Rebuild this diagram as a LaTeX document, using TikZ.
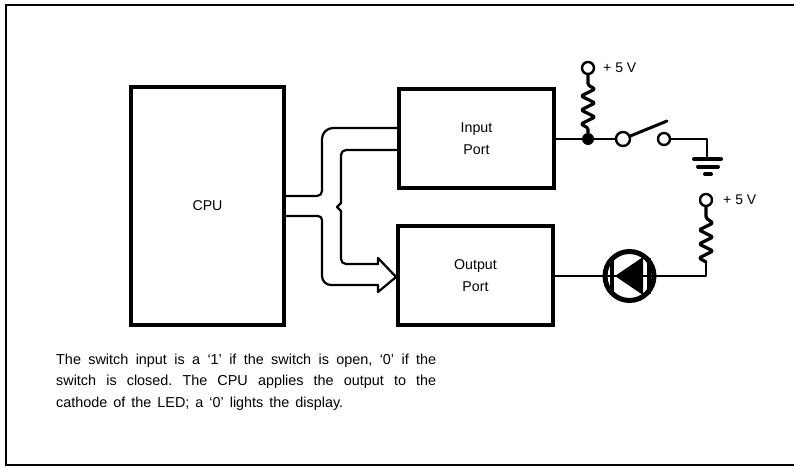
\documentclass[tikz,border=0pt]{standalone}
\usepackage{fontspec}
\setmainfont{Liberation Sans}
\usetikzlibrary{calc}
\tikzset{
  x=1pt,y=-1pt,
  blockbox/.style={draw,line width=3.8pt,minimum width=#1,align=center,inner sep=0pt,font=\fontsize{14.2}{22}\selectfont},
  wire/.style={line width=2.2pt,line join=round,line cap=round},
  term/.style={circle,draw,fill=white,line width=2.4pt,minimum size=#1,inner sep=0pt},
  dotnode/.style={circle,fill=black,minimum size=12pt,inner sep=0pt},
  lbl/.style={font=\fontsize{14}{16}\selectfont,anchor=west,inner sep=0pt},
  res/.style={line width=3.2pt,line join=round,line cap=round},
  gnd/.style={line width=4pt,line cap=round}
}
\begin{document}
\begin{tikzpicture}
\useasboundingbox (0,0) rectangle (794,466);
\draw[line width=2.2pt] (794,5) -- (6,5) -- (6,465) -- (794,465);
% blocks
\node[blockbox=153pt,minimum height=238pt] (cpu) at (207.5,206) {CPU};
\node[blockbox=155pt,minimum height=99pt] (in) at (476.5,138.5) {Input\\Port};
\node[blockbox=155pt,minimum height=99pt] (out) at (475.5,275.5) {Output\\Port};
% bus
\draw[wire,rounded corners=5pt] (cpu.east |- 0,196) -- (322,196) [rounded corners=11pt] -- (322,128) -- (in.west |- 0,128);
\draw[wire,rounded corners=5pt] (in.west |- 0,150) -- (341,150) -- (341,203);
\draw[wire] (341,203) -- (337,207) -- (341,211);
\draw[wire,rounded corners=5pt] (341,211) -- (341,264) -- (378,264);
\draw[wire] (378,264) -- (378,258) -- (out.west |- 0,277) -- (378,292) -- (378,285);
\draw[wire,rounded corners=9pt] (378,285) -- (322,285) [rounded corners=4pt] -- (322,216) -- (cpu.east |- 0,216);
% input circuit
\node[term=12pt] (vcc1) at (588,68) {};
\node[lbl] (v1) at (603,68) {+ 5 V};
\node[dotnode] (j) at (588,139) {};
\node[term=14pt] (sw1) at (623,139) {};
\node[term=12pt] (sw2) at (664,139) {};
\coordinate (g) at (707,158);
\draw[wire] (in.east |- j) -- (j) -- (sw1);
\draw[res,rounded corners=1.5pt] (vcc1) -- (588,85) -- (595,89) -- (581,96) -- (595,103) -- (581,110) -- (595,117) -- (581,124) -- (588,128) -- (j);
\draw[wire,line width=3pt] (sw1) -- (667,121);
\draw[wire] (sw2) -- (707,139) -- (g);
\draw[gnd] (694,159) -- (721,159);
\draw[gnd] (698,166.5) -- (718,166.5);
\draw[gnd] (705,174) -- (711,174);
% output circuit
\node[term=12pt] (vcc2) at (706,200) {};
\node[lbl] (v2) at (723,200) {+ 5 V};
\node[circle,draw,line width=5pt,minimum size=49pt,inner sep=0pt,fill=white,outer sep=0pt] (led) at (629.5,276) {};
\draw[res,rounded corners=1.5pt] (vcc2) -- (706,218) -- (713,223) -- (699,230) -- (713,237) -- (699,244) -- (713,251) -- (699,258) -- (706,262);
\draw[wire] (706,262) -- (706,276) -- (led);
\draw[wire] (out.east |- led) -- (led);
\draw[line width=1.5pt] (led.west) -- (led.east);
\fill (615,276) -- (643,257) -- (643,295) -- cycle;
\draw[line width=3.5pt] (612,258) -- (612,294);
\draw[line width=4pt] (649,258) -- (649,294);
% caption
\node[anchor=north west,inner sep=0pt,text width=380pt,align=justify,font=\fontsize{14.4}{21.5}\selectfont\frenchspacing] (cap) at (56,353.5)
{The switch input is a `1' if the switch is open, `0' if the\linebreak
switch is closed. The CPU applies the output to the\linebreak
\hbox to 287pt{cathode of the LED; a `0' lights the display.}\par};
\end{tikzpicture}
\end{document}
